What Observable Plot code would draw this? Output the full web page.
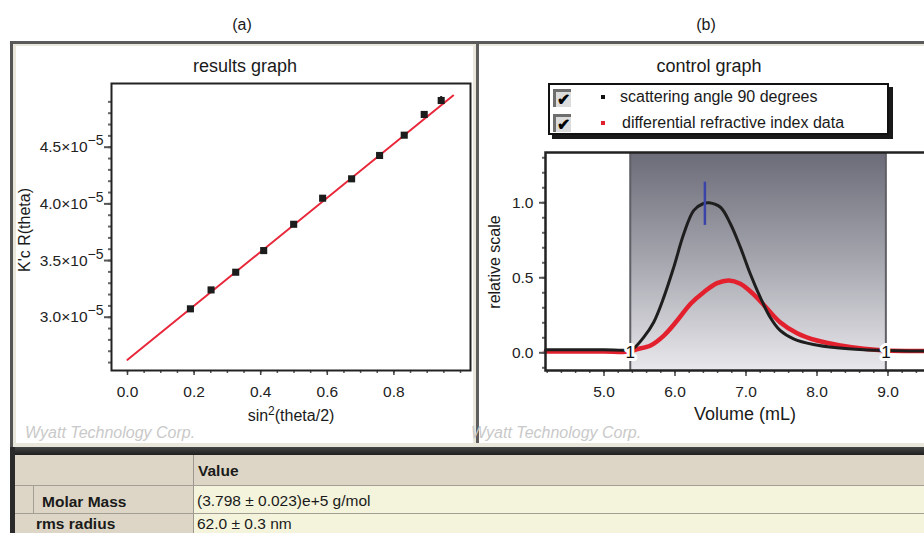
<!DOCTYPE html>
<html>
<head>
<meta charset="utf-8">
<script src="https://cdn.jsdelivr.net/npm/d3@7"></script>
<script src="https://cdn.jsdelivr.net/npm/@observablehq/plot@0.6"></script>
<style>
html, body { margin:0; padding:0; background:#fff; overflow:hidden; }
body { width:924px; height:533px; position:relative; font-family:"Liberation Sans", Arial, sans-serif; color:#1a1a1a; }
.a { position:absolute; }
.c { position:absolute; transform:translate(-50%,-50%); white-space:nowrap; line-height:1; }
.l { position:absolute; transform:translateY(-50%); white-space:nowrap; line-height:1; }
.r { position:absolute; transform:translate(-50%,-50%) rotate(-90deg); white-space:nowrap; line-height:1; }
.wm { position:absolute; transform:translateY(-50%); white-space:nowrap; line-height:1; font-style:italic; font-size:16px; color:#c9c9c9; }
.chk { position:absolute; width:15px; height:15px; background:#dcdcdc; border-left:3px solid #6e6e6e; border-top:3px solid #6e6e6e; font-size:16px; font-weight:bold; line-height:15px; text-align:center; color:#000; }
.tb { position:absolute; white-space:nowrap; line-height:1; transform:translateY(-50%); font-size:15.5px; }
</style>
</head>
<body>
<svg width="0" height="0" style="position:absolute"><defs>
<linearGradient id="shade" x1="0" y1="0" x2="0" y2="1">
<stop offset="0" stop-color="#6b6b78"/><stop offset="0.5" stop-color="#a6a6af"/><stop offset="1" stop-color="#e8e8ec"/>
</linearGradient></defs></svg>

<div class="c" style="left:242px;top:25px;font-size:16px">(a)</div>
<div class="c" style="left:706px;top:25px;font-size:16px">(b)</div>

<!-- panel frames -->
<div class="a" style="left:10px;top:41px;width:914px;height:407px;background:#e9e6dc;border-top:3px solid #5a5a5a;border-left:3px solid #555;box-sizing:border-box"></div>
<div class="a" style="left:16px;top:46px;width:457px;height:397px;background:#fff"></div>
<div class="a" style="left:476px;top:44px;width:3px;height:399px;background:#5e5e5e"></div>
<div class="a" style="left:479px;top:46px;width:445px;height:397px;background:#fff"></div>

<div id="chartA" class="a" style="left:14px;top:44px;width:459px;height:399px"></div>
<div id="chartB" class="a" style="left:479px;top:44px;width:500px;height:399px"></div>

<div class="c" style="left:245px;top:66px;font-size:18px">results graph</div>
<div class="c" style="left:709px;top:66px;font-size:18px">control graph</div>
<div class="r" style="left:25px;top:230px;font-size:16px">K'c R(theta)</div>
<div class="c" style="left:291px;top:416px;font-size:16px">sin<sup style="font-size:12px;line-height:0">2</sup>(theta/2)</div>
<div class="r" style="left:495px;top:262px;font-size:16px">relative scale</div>
<div class="c" style="left:745px;top:414px;font-size:18px">Volume (mL)</div>
<div class="wm" style="left:25px;top:433px">Wyatt Technology Corp.</div>
<div class="wm" style="left:471px;top:433px">Wyatt Technology Corp.</div>

<!-- legend -->
<div class="a" style="left:548px;top:83px;width:341px;height:52px;box-sizing:border-box;border:2px solid #111;box-shadow:4px 4px 0 #1a1a1a;background:#fff"></div>
<div class="chk" style="left:553px;top:89px">✔</div>
<div class="chk" style="left:553px;top:114px">✔</div>
<div class="a" style="left:601px;top:95px;width:4px;height:4px;background:#111"></div>
<div class="a" style="left:601px;top:121px;width:4px;height:4px;background:#e0202c"></div>
<div class="l" style="left:620px;top:97px;font-size:16px">scattering angle 90 degrees</div>
<div class="l" style="left:622px;top:123px;font-size:16px">differential refractive index data</div>

<!-- results table -->
<div class="a" style="left:10px;top:447px;width:914px;height:8px;background:linear-gradient(#454545,#1e1e1e)"></div>
<div class="a" style="left:10px;top:447px;width:5px;height:86px;background:#2a2a2a"></div>
<div class="a" style="left:15px;top:455px;width:909px;height:78px;background:#ddd6c6"></div>
<div class="a" style="left:15px;top:485px;width:909px;height:1px;background:#a39f95"></div>
<div class="a" style="left:193px;top:455px;width:1px;height:78px;background:#9c9890"></div>
<div class="a" style="left:33px;top:486px;width:1px;height:27px;background:#a39f95"></div>
<div class="a" style="left:194px;top:486px;width:730px;height:27px;background:#f4f4dc"></div>
<div class="a" style="left:15px;top:513px;width:909px;height:1px;background:#a39f95"></div>
<div class="a" style="left:194px;top:514px;width:730px;height:19px;background:#f4f4dc"></div>
<div class="tb" style="left:198px;top:471px;font-weight:bold">Value</div>
<div class="tb" style="left:42px;top:502px;font-weight:bold">Molar Mass</div>
<div class="tb" style="left:197px;top:501px">(3.798 ± 0.023)e+5 g/mol</div>
<div class="tb" style="left:36px;top:524px;font-weight:bold">rms radius</div>
<div class="tb" style="left:197px;top:524px">62.0 ± 0.3 nm</div>

<script>
// ---------- (a) results graph ----------
const sin2Half = [0.189, 0.251, 0.325, 0.409, 0.499, 0.586, 0.673, 0.757, 0.831, 0.891, 0.942];
const kcR      = [3.074e-5, 3.241e-5, 3.397e-5, 3.588e-5, 3.820e-5, 4.050e-5, 4.221e-5, 4.427e-5, 4.606e-5, 4.789e-5, 4.912e-5];
const kcRErr   = [0.012e-5, 0.010e-5, 0.012e-5, 0.010e-5, 0.010e-5, 0.010e-5, 0.012e-5, 0.012e-5, 0.010e-5, 0.015e-5, 0.035e-5];
const fitX     = [0.0, 0.978];
const fitY     = [2.624e-5, 4.956e-5];
const xTicksA  = [0.0, 0.2, 0.4, 0.6, 0.8];
const yTicksA  = [3.0e-5, 3.5e-5, 4.0e-5, 4.5e-5];

// ---------- (b) control graph ----------
const volLS    = [4.18, 4.6, 5.0, 5.37, 5.42, 5.561, 5.70, 5.843, 5.983, 6.124, 6.265, 6.40, 6.48, 6.64, 6.78, 6.92, 7.06, 7.20, 7.34, 7.48, 7.67, 7.95, 8.28, 8.66, 8.97, 9.3, 9.81];
const lsSignal = [0.02, 0.02, 0.02, 0.02, 0.03, 0.104, 0.204, 0.371, 0.571, 0.793, 0.949, 0.995, 1.0, 0.97, 0.86, 0.704, 0.527, 0.371, 0.237, 0.149, 0.093, 0.055, 0.033, 0.02, 0.015, 0.012, 0.012];
const volRI    = [4.18, 4.6, 5.0, 5.37, 5.45, 5.656, 5.843, 6.031, 6.22, 6.405, 6.593, 6.757, 6.92, 7.10, 7.30, 7.48, 7.72, 8.00, 8.33, 8.66, 8.97, 9.3, 9.81];
const riSignal = [0.008, 0.008, 0.008, 0.008, 0.022, 0.049, 0.115, 0.215, 0.327, 0.404, 0.464, 0.482, 0.46, 0.393, 0.293, 0.204, 0.131, 0.082, 0.049, 0.027, 0.015, 0.012, 0.012];
const peakRange  = [5.37, 8.97];
const peakLabels = ["1", "1"];
const peakLabelY = 0.0;
const peakMarker = [{v: 6.421, lo: 0.849, hi: 1.137}];
const xTicksB  = [5, 6, 7, 8, 9];
const yTicksB  = [0.0, 0.5, 1.0];

const font = "'Liberation Sans', Arial, sans-serif";

// ---- chart (a)
const ptsA = sin2Half.map((x, i) => ({x, y: kcR[i], lo: kcR[i] - kcRErr[i], hi: kcR[i] + kcRErr[i]}));
const fitA = fitX.map((x, i) => ({x, y: fitY[i]}));
const svgA = Plot.plot({
  width: 459, height: 399,
  marginLeft: 97, marginRight: 3, marginTop: 39, marginBottom: 73,
  style: {background: "transparent", maxWidth: "none", overflow: "visible", fontFamily: font, fontSize: "15px", color: "#222"},
  x: {domain: [-0.048, 1.03]},
  y: {domain: [2.530e-5, 5.062e-5]},
  marks: [
    Plot.axisX({ticks: d3.range(0, 1.0001, 0.05), tickSize: 3, tickFormat: () => "", label: null, strokeWidth: 1.5, stroke: "#555"}),
    Plot.axisX({ticks: xTicksA, tickSize: 5, tickPadding: 10, tickFormat: d => d.toFixed(1), label: null, strokeWidth: 1.5, stroke: "#444", fontSize: 15.5}),
    Plot.axisY({ticks: d3.range(26, 49.5, 1).map(v => v * 1e-6), tickSize: 3, tickFormat: () => "", label: null, strokeWidth: 2, stroke: "#666"}),
    Plot.axisY({ticks: yTicksA, tickSize: 7, tickPadding: 1, tickFormat: d => (d * 1e5).toFixed(1) + "×10", label: null, strokeWidth: 2, stroke: "#555", fontSize: 15.5}),
    Plot.line(fitA, {x: "x", y: "y", stroke: "#e8283a", strokeWidth: 2}),
    Plot.ruleX(ptsA, {x: "x", y1: "lo", y2: "hi", stroke: "#1c1c1c", strokeWidth: 2}),
    Plot.dot(ptsA, {x: "x", y: "y", symbol: "square", r: 4, fill: "#1c1c1c"}),
    Plot.frame({stroke: "#222", strokeWidth: 2})
  ]
});
d3.select(svgA).selectAll('g[aria-label="y-axis tick label"] text').each(function () {
  const t = d3.select(this);
  const s = t.text();
  if (!s) return;
  t.append("tspan").attr("dy", "-0.5em").attr("font-size", "14px").text("−5");
});
document.getElementById("chartA").append(svgA);

// ---- chart (b)
const ls = volLS.map((x, i) => ({x, y: lsSignal[i]}));
const ri = volRI.map((x, i) => ({x, y: riSignal[i]}));
const labelsB = peakRange.map((x, i) => ({x, y: peakLabelY, t: peakLabels[i]}));
const svgB = Plot.plot({
  width: 500, height: 399,
  marginLeft: 66, marginRight: 34, marginTop: 108, marginBottom: 73,
  style: {background: "transparent", maxWidth: "none", overflow: "visible", fontFamily: font, fontSize: "15px", color: "#222"},
  x: {domain: [4.176, 9.81]},
  y: {domain: [-0.118, 1.335]},
  marks: [
    Plot.rect([{x1: peakRange[0], x2: peakRange[1]}], {x1: "x1", x2: "x2", fill: "url(#shade)"}),
    Plot.ruleX(peakRange, {stroke: "#5f5f66", strokeWidth: 2}),
    Plot.line(ri, {x: "x", y: "y", stroke: "#e3202e", strokeWidth: 4.5, curve: "catmull-rom"}),
    Plot.line(ls, {x: "x", y: "y", stroke: "#1e1e1e", strokeWidth: 3, curve: "catmull-rom"}),
    Plot.ruleX(peakMarker, {x: "v", y1: "lo", y2: "hi", stroke: "#3a44a8", strokeWidth: 2.5}),
    Plot.text(labelsB, {x: "x", y: "y", text: "t", fontSize: 17, fill: "#111", stroke: "white", strokeWidth: 6}),
    Plot.axisX({ticks: d3.range(4.2, 9.81, 0.2), tickSize: 3, tickFormat: () => "", label: null, strokeWidth: 1.5, stroke: "#555"}),
    Plot.axisX({ticks: xTicksB, tickSize: 6, tickPadding: 9, tickFormat: d => d.toFixed(1), label: null, strokeWidth: 1.5, stroke: "#444", fontSize: 15.5}),
    Plot.axisY({ticks: d3.range(-1, 13.5, 1).map(v => v / 10), tickSize: 3, tickFormat: () => "", label: null, strokeWidth: 2, stroke: "#666"}),
    Plot.axisY({ticks: yTicksB, tickSize: 6, tickPadding: 6, tickFormat: d => d.toFixed(1), label: null, strokeWidth: 2, stroke: "#555", fontSize: 15.5}),
    Plot.frame({stroke: "#222", strokeWidth: 2.5})
  ]
});
document.getElementById("chartB").append(svgB);
</script>
</body>
</html>
